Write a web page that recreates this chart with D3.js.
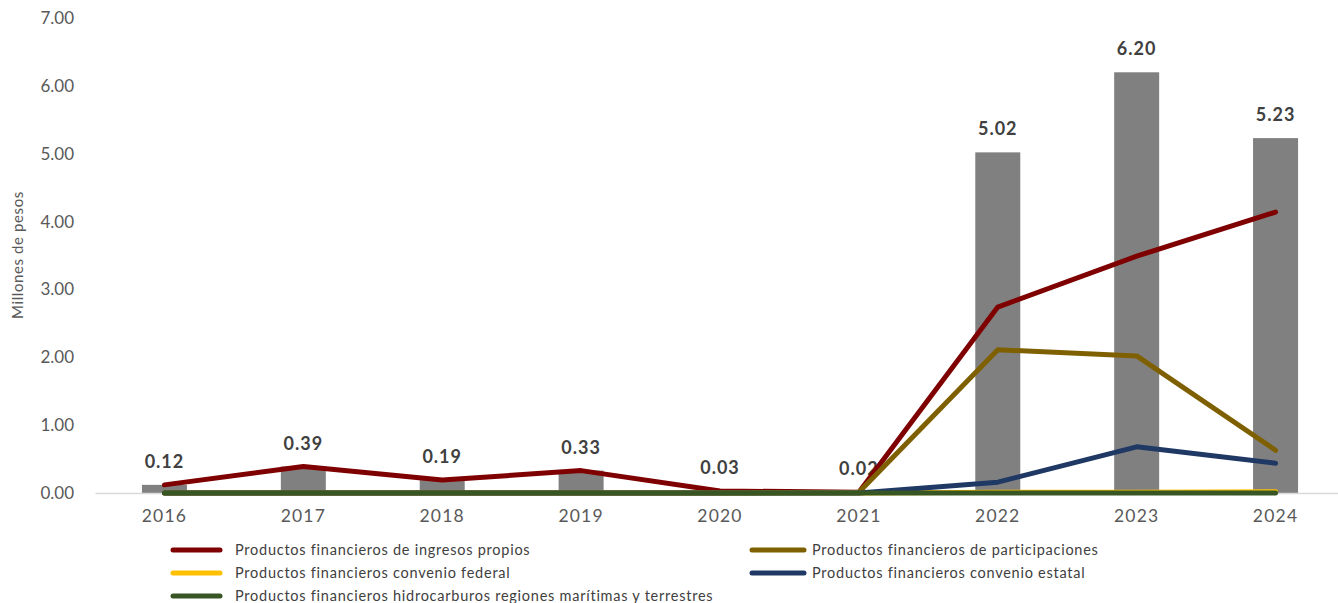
<!DOCTYPE html>
<html><head><meta charset="utf-8">
<script src="https://cdn.jsdelivr.net/npm/d3@7"></script>
<style>body{margin:0;background:#fff}svg{display:block;font-family:Lato,"Open Sans",sans-serif}</style>
</head><body><svg id="c" width="1338" height="603"></svg>
<script>
const years = ["2016","2017","2018","2019","2020","2021","2022","2023","2024"];
const totals = [0.12,0.39,0.19,0.33,0.03,0.02,5.02,6.20,5.23];
const ingresosPropios = [0.12,0.39,0.19,0.33,0.03,0.01,2.74,3.49,4.14];
const participaciones = [0,0,0,0,0,0.01,2.11,2.02,0.63];
const convenioFederal = [0,0,0,0,0,0,0.01,0.01,0.02];
const convenioEstatal = [0,0,0,0,0,0,0.16,0.68,0.44];
const hidrocarburos = [0,0,0,0,0,0,0,0,0];
const yTicks = [0,1,2,3,4,5,6,7];
const seriesNames = ["Productos financieros de ingresos propios","Productos financieros de participaciones","Productos financieros convenio federal","Productos financieros convenio estatal","Productos financieros hidrocarburos regiones marítimas y terrestres"];

const series = [
  {name:seriesNames[0], values:ingresosPropios, color:"#7f0000"},
  {name:seriesNames[1], values:participaciones, color:"#7f6000"},
  {name:seriesNames[2], values:convenioFederal, color:"#ffc000"},
  {name:seriesNames[3], values:convenioEstatal, color:"#1f3864"},
  {name:seriesNames[4], values:hidrocarburos, color:"#375623"}
];

const svg = d3.select("#c");
const x = d3.scaleBand().domain(years).range([95,1345]).paddingInner(0.676).paddingOuter(0.338);
const y = d3.scaleLinear().domain([0,7]).range([493,18]);

// y tick labels
const yAxis = d3.axisLeft(y).tickValues(yTicks).tickFormat(d3.format(".2f")).tickSize(0).tickPadding(0);
const ga = svg.append("g").attr("transform","translate(74,0)").call(yAxis);
ga.select(".domain").remove();
ga.selectAll("text").attr("font-size",17).attr("fill","#595959").attr("font-family","Lato");

svg.append("text").attr("transform","translate(23,255) rotate(-90)").attr("text-anchor","middle")
  .attr("font-size",15).attr("letter-spacing",0.6).attr("fill","#595959").text("Millones de pesos");

// bars
svg.append("g").selectAll("rect").data(years).join("rect")
  .attr("x",d=>x(d)).attr("width",x.bandwidth())
  .attr("y",(d,i)=>y(totals[i])).attr("height",(d,i)=>y(0)-y(totals[i]))
  .attr("fill","#808080");

// axis line
const xAxis = d3.axisBottom(x).tickSize(0).tickPadding(17);
const gx = svg.append("g").attr("transform","translate(0,493)").call(xAxis);
gx.select(".domain").attr("stroke","#d9d9d9").attr("stroke-width",1.5);
gx.selectAll("text").attr("font-size",17.5).attr("letter-spacing",1.2).attr("fill","#595959").attr("font-family","Lato");

// bar labels
svg.append("g").selectAll("text").data(years).join("text")
  .attr("x",d=>x(d)+x.bandwidth()/2).attr("y",(d,i)=>y(totals[i])-17)
  .attr("text-anchor","middle").attr("font-size",18).attr("letter-spacing",1).attr("font-weight","bold").attr("fill","#404040")
  .text((d,i)=>d3.format(".2f")(totals[i]));

// lines
const line = d3.line().x((d,i)=>x(years[i])+x.bandwidth()/2).y(d=>y(d));
svg.append("g").selectAll("path").data(series).join("path")
  .attr("d",s=>line(s.values)).attr("fill","none").attr("stroke",s=>s.color)
  .attr("stroke-width",5).attr("stroke-linecap","round").attr("stroke-linejoin","round");

// legend
const legPos = [[173,550],[752,550],[173,573],[752,573],[173,596]];
const lg = svg.append("g").selectAll("g").data(series).join("g")
  .attr("transform",(s,i)=>`translate(${legPos[i][0]},${legPos[i][1]})`);
lg.append("line").attr("x1",0).attr("x2",(s,i)=>i%2?52:47).attr("y1",0).attr("y2",0)
  .attr("stroke",s=>s.color).attr("stroke-width",5).attr("stroke-linecap","round");
lg.append("text").attr("x",(s,i)=>i%2?60:62).attr("y",0).attr("dy","0.35em")
  .attr("font-size",14.5).attr("letter-spacing",0.75).attr("fill","#404040").text(s=>s.name);
</script></body></html>
